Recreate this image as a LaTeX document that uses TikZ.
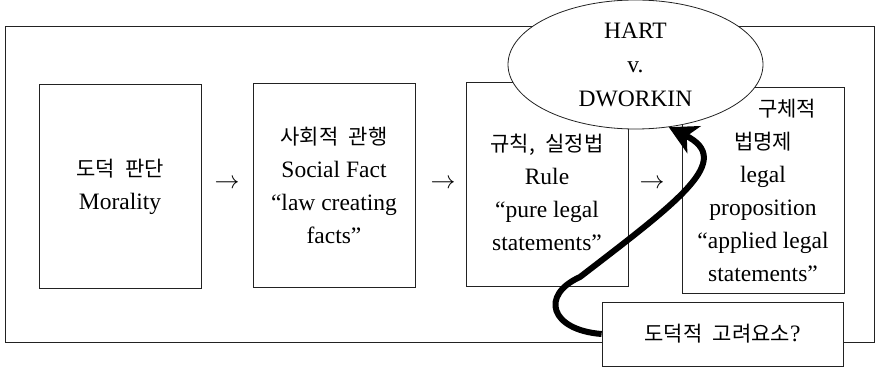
\documentclass[tikz,border=0pt]{standalone}
\usepackage{fontspec}
\setmainfont{Liberation Serif}
\newfontfamily\krfont{Noto Sans CJK KR}
\newcommand\kor[1]{{\krfont\fontsize{21}{33}\selectfont\spaceskip=0.5em #1}}
\usepackage{tikz}
\usetikzlibrary{arrows.meta,shapes.geometric}
\definecolor{cInk}{HTML}{222222}
\tikzset{
  box/.style   = {draw=cInk, line width=0.8pt, align=center,
                  minimum width=162pt, minimum height=204pt, inner sep=2pt,
                  font=\fontsize{23.5}{33}\selectfont},
  frame/.style = {draw=cInk, line width=0.8pt},
  debate/.style = {ellipse, draw=cInk, line width=0.8pt, fill=white,
                   minimum width=255pt, minimum height=129pt, inner sep=0pt,
                   align=center, font=\fontsize{23.5}{34}\selectfont},
  query/.style = {box, fill=white, minimum width=241pt, minimum height=64pt},
  gap/.style   = {font=\fontsize{24}{24}\selectfont},
  push/.style  = {-{Stealth[length=28pt, width=30pt, inset=8pt]},
                  line width=6pt},
}

\begin{document}
\begin{tikzpicture}[x=1pt, y=1pt]
  \useasboundingbox (0,0) rectangle (876,367);
  % outer frame
  \draw[frame] (5,25) rectangle (874,341);
  % the four stages
  \node[box] (moral) at (120,180.5)
    {\kor{도덕 판단}\\Morality};
  \node[box] (social) at (334,182)
    {\kor{사회적 관행}\\Social Fact\\“law creating\\facts”};
  \node[box] (rule) at (547,182.5)
    {\mbox{}\\\kor{규칙, 실정법}\\Rule\\“pure legal\\statements”};
  \node[box, minimum height=206pt] (prop) at (763,177)
    {\hspace*{48pt}\kor{구체적}\\\kor{법명제}\\legal\\proposition\\“applied legal\\statements”};
  % arrows between stages
  \node[gap] (g1) at (227,183) {$\rightarrow$};
  \node[gap] (g2) at (443,183) {$\rightarrow$};
  \node[gap] (g3) at (652,183) {$\rightarrow$};
  % debate and question
  \node[debate] (hd) at (635.5,302.5) {HART\\v.\\DWORKIN};
  \node[query] (moralq) at (722.5,33) {\kor{도덕적 고려요소}?};
  \draw[push] (moralq.west) .. controls (550,37) and (540,72) .. (580,90)
    .. controls (680,167) and (735,207) .. (hd.-62);
\end{tikzpicture}
\end{document}
